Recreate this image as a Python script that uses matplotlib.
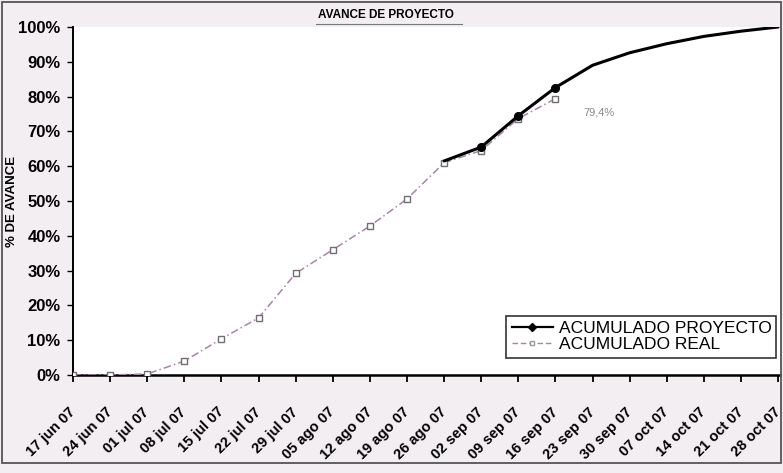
import matplotlib
matplotlib.use("Agg")
import matplotlib.pyplot as plt
from matplotlib.patches import Rectangle
from matplotlib.lines import Line2D
from matplotlib.ticker import PercentFormatter
from matplotlib.transforms import ScaledTranslation
import numpy as np

# Weekly cut-off dates
semanas = ["17 jun 07", "24 jun 07", "01 jul 07", "08 jul 07", "15 jul 07",
           "22 jul 07", "29 jul 07", "05 ago 07", "12 ago 07", "19 ago 07",
           "26 ago 07", "02 sep 07", "09 sep 07", "16 sep 07", "23 sep 07",
           "30 sep 07", "07 oct 07", "14 oct 07", "21 oct 07", "28 oct 07"]

# Planned cumulative progress (%), shown from 26 ago onward
acumulado_proyecto = [None, None, None, None, None, None, None, None, None, None,
                      61.5, 65.5, 74.5, 82.6, 89.0, 92.6, 95.2, 97.3, 98.8, 100.0]

# Actual cumulative progress (%)
acumulado_real = [0.0, 0.0, 0.3, 4.0, 10.4, 16.4, 29.2, 36.0, 42.8, 50.6,
                  61.0, 64.5, 73.7, 79.4]

etiqueta_real = "79,4%"

plt.rcParams['font.family'] = ['Liberation Sans', 'DejaVu Sans']

fig = plt.figure(figsize=(7.83, 4.73), dpi=100)
fig.patch.set_facecolor('#f3eef2')

ax = fig.add_axes([73/783, 1 - 375/473, 707/783, (375 - 27)/473])
ax.set_facecolor('white')

x = np.arange(len(semanas))
proy = np.array([np.nan if v is None else v for v in acumulado_proyecto], dtype=float)
real = np.array(acumulado_real, dtype=float)

# planned curve
ax.plot(x, proy, color='black', lw=2.2, solid_capstyle='round', zorder=4)
ax.plot(x[11:14], proy[11:14], linestyle='none', marker='o', ms=5.5,
        color='black', zorder=5)

# actual curve
ax.plot(x[:len(real)], real, color='#a785a7', lw=1.1, linestyle=(0, (5, 2, 1, 2)),
        marker='s', ms=4.5, mfc='white', mec='#6f6f6f', mew=1.0, zorder=3)

ax.annotate(etiqueta_real, xy=(x[len(real) - 1], real[-1]), xytext=(20, -12),
            textcoords='offset points', fontsize=8, color='#8a8a8a')

ax.set_xlim(0, 19.05)
ax.set_ylim(0, 100)
ax.set_yticks(np.arange(0, 101, 10))
ax.yaxis.set_major_formatter(PercentFormatter(decimals=0))
ax.set_xticks(x)
ax.set_xticklabels(semanas, rotation=45, ha='right', va='center',
                   rotation_mode='anchor', fontsize=10.5, fontweight='bold')
shift = ScaledTranslation(-4/100, 0, fig.dpi_scale_trans)
for lab in ax.get_xticklabels():
    lab.set_transform(lab.get_transform() + shift)
for lab in ax.get_yticklabels():
    lab.set_fontsize(12)
    lab.set_fontweight('bold')

ax.tick_params(axis='x', direction='out', length=5, width=1.3, pad=20)
ax.tick_params(axis='y', direction='out', length=4, width=1.0, pad=5)

for s in ['top', 'right']:
    ax.spines[s].set_visible(False)
ax.spines['left'].set_linewidth(1.4)
ax.spines['bottom'].set_linewidth(1.8)

ax.set_ylabel('% DE AVANCE', fontsize=9.5, fontweight='bold')
ax.yaxis.set_label_coords((18 - 73) / 707, 0.5)

# legend
h1 = Line2D([], [], color='black', lw=1.6, marker='D', ms=4)
h2 = Line2D([], [], color='#a785a7', lw=1.0, linestyle=(0, (4, 2)),
            marker='s', ms=3.5, mfc='white', mec='#999999')
leg = ax.legend([h1, h2], ['ACUMULADO PROYECTO', 'ACUMULADO REAL'],
                loc='lower right', bbox_to_anchor=(0.995, 0.05),
                fancybox=False, framealpha=1, edgecolor='#333333',
                handlelength=2.4, handletextpad=0.3, borderpad=0.3,
                borderaxespad=0, labelspacing=0.05,
                prop={'size': 12.5})
leg.get_frame().set_linewidth(1.2)

# title with rule underneath
fig.text(386/783, 1 - 15/473, 'AVANCE DE PROYECTO', ha='center', va='center',
         fontsize=8.5, fontweight='bold')
fig.add_artist(Line2D([316/783, 462/783], [1 - 24/473, 1 - 24/473],
                      color='#777777', lw=0.8))

# outer frame
fig.add_artist(Rectangle((2/783, 10/473), 779/783, 461/473, fill=False,
                         edgecolor='#555555', lw=1.3, transform=fig.transFigure))

fig.savefig('out.png', dpi=100, facecolor=fig.get_facecolor())
